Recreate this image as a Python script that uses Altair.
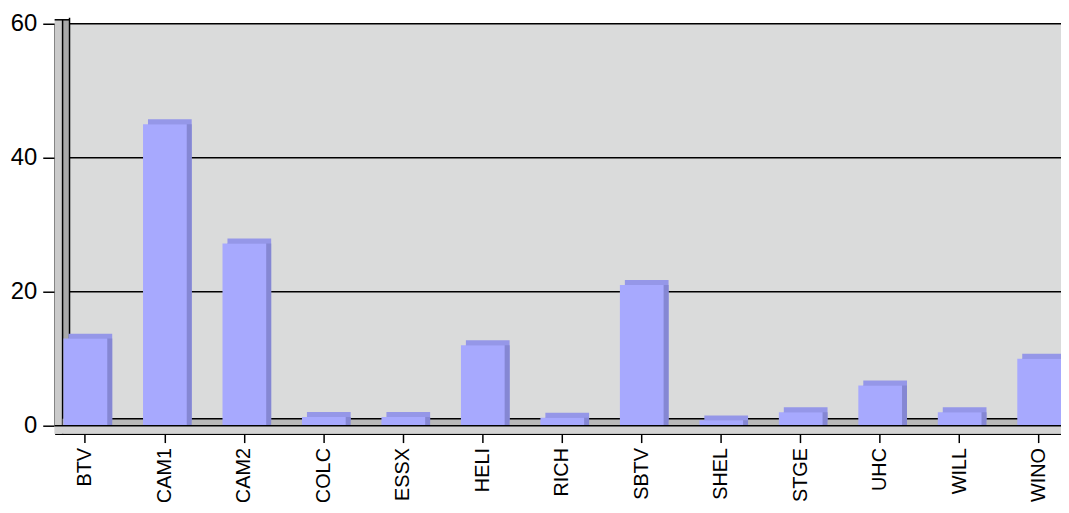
import altair as alt
import pandas as pd

# ---- data ----
sites = ["BTV", "CAM1", "CAM2", "COLC", "ESSX", "HELI", "RICH",
         "SBTV", "SHEL", "STGE", "UHC", "WILL", "WINO"]
values = [13, 45, 27.2, 1.3, 1.3, 12, 1.2, 21, 0.8, 2, 6, 2, 10]
y_ticks = [0, 20, 40, 60]
grid_levels = [20, 40, 60]

W, H = 1014, 405
FONT = "Liberation Sans"

df = pd.DataFrame({"site": sites, "value": values})
gdf = pd.DataFrame({"g": grid_levels})
one = pd.DataFrame({"k": [0]})

FRONT = "#a7a9fe"
TOP = "#9597e8"
SIDE = "#8587d3"
BG = "#dadbdb"

xscale = alt.Scale(domain=sites, paddingInner=0.45, paddingOuter=0.056, align=1)
yscale = alt.Scale(domain=[0, 60], nice=False, zero=True)

xaxis = alt.Axis(title=None, labelAngle=-90, labelFontSize=20, labelFont=FONT,
                 labelColor="black", tickColor="black", tickSize=9, tickWidth=1.5,
                 domainColor="black", domainWidth=1.5, offset=8, labelPadding=5,
                 grid=False, labelAlign="right", labelBaseline="middle")
yaxis = alt.Axis(title=None, values=y_ticks, labelFontSize=24, labelFont=FONT,
                 labelColor="black", tickColor="black", tickSize=12, tickWidth=1.5,
                 domainColor="black", domainWidth=1.5, labelPadding=6, grid=False)

X = alt.X("site:N", scale=xscale, sort=sites, axis=xaxis)
Y = alt.Y("value:Q", scale=yscale, axis=yaxis)

grid = alt.Chart(gdf).mark_rule(color="black", strokeWidth=1.5).encode(
    y=alt.Y("g:Q", scale=yscale, axis=yaxis),
    x=alt.value(15), x2=alt.value(W),
)

wall_outer = alt.Chart(one).mark_rect(color="#cbcbcb").encode(
    x=alt.value(0), x2=alt.value(8), y=alt.value(-4), y2=alt.value(H + 8))
wall_inner = alt.Chart(one).mark_rect(color="#a9a9a9").encode(
    x=alt.value(8), x2=alt.value(15), y=alt.value(-4), y2=alt.value(H - 7))
wall_line1 = alt.Chart(one).mark_rule(color="black", strokeWidth=1.5).encode(
    x=alt.value(8), y=alt.value(-4), y2=alt.value(H + 8))
wall_line2 = alt.Chart(one).mark_rule(color="black", strokeWidth=1.5).encode(
    x=alt.value(15), y=alt.value(-6), y2=alt.value(H - 7))
wall_top = alt.Chart(one).mark_rule(color="black", strokeWidth=1.5).encode(
    x=alt.value(0), x2=alt.value(15), y=alt.value(-4))

floor_back = alt.Chart(one).mark_rect(color="#b9b9b9").encode(
    x=alt.value(8), x2=alt.value(W), y=alt.value(H - 7), y2=alt.value(H))
floor_back_line = alt.Chart(one).mark_rule(color="black", strokeWidth=1.5).encode(
    x=alt.value(15), x2=alt.value(W), y=alt.value(H - 7))

bar_top = alt.Chart(df).mark_bar(color=TOP, xOffset=5, yOffset=-5).encode(x=X, y=Y)
bar_side = alt.Chart(df).mark_bar(color=SIDE, xOffset=5).encode(x=X, y=Y)
bar_front = alt.Chart(df).mark_bar(color=FRONT).encode(x=X, y=Y)

floor_front = alt.Chart(one).mark_rect(color="#d3d3d3").encode(
    x=alt.value(0), x2=alt.value(W), y=alt.value(H), y2=alt.value(H + 8))
floor_front_line = alt.Chart(one).mark_rule(color="black", strokeWidth=1.5).encode(
    x=alt.value(0), x2=alt.value(W), y=alt.value(H))

chart = alt.layer(
    grid, wall_outer, wall_inner, wall_line1, wall_line2, wall_top,
    floor_back, floor_back_line, bar_top, bar_side, bar_front,
    floor_front, floor_front_line,
).properties(
    width=W, height=H,
    padding={"left": 47, "top": 14, "right": 0, "bottom": 75},
    autosize=alt.AutoSizeParams(type="none"),
    background="white",
).configure_view(fill=BG, stroke=None)

chart.save("out.html", embed_options={"renderer": "svg", "actions": False})
